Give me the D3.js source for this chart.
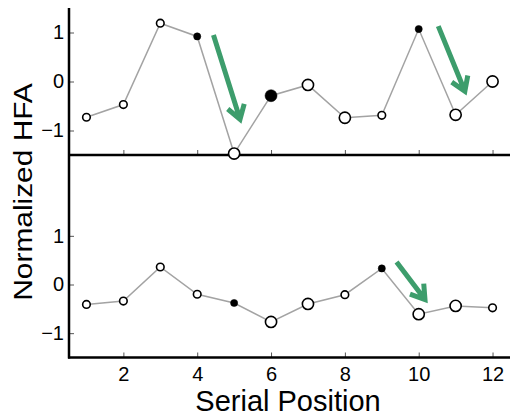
<!DOCTYPE html>
<html><head><meta charset="utf-8">
<script src="https://cdn.jsdelivr.net/npm/d3@7"></script>
<style>body{margin:0;background:#fff}svg{display:block}</style>
</head><body>
<svg id="c" width="510" height="417"></svg>
<script>
const positions = [1,2,3,4,5,6,7,8,9,10,11,12];
const topValues = [-0.73,-0.47,1.19,0.92,-1.47,-0.29,-0.07,-0.74,-0.69,1.07,-0.68,0.0];
const topMarkers = ["so","so","so","sf","lo","lf","lo","lo","so","sf","lo","lo"];
const bottomValues = [-0.41,-0.34,0.36,-0.2,-0.38,-0.77,-0.40,-0.21,0.33,-0.61,-0.44,-0.48];
const bottomMarkers = ["so","so","so","so","sf","lo","lo","so","sf","lo","lo","so"];
const xTicks = [2,4,6,8,10,12];
const yTicks = [-1,0,1];
const topArrows = [{x1:4.44,y1:0.95,x2:5.16,y2:-0.77},{x1:10.53,y1:1.13,x2:11.25,y2:-0.2}];
const bottomArrows = [{x1:9.40,y1:0.46,x2:10.17,y2:-0.31}];

const svg = d3.select("#c");
const font = "'Liberation Sans', Arial, Helvetica, sans-serif";
const x = d3.scaleLinear().domain([0.5,12.5]).range([68,511]);
const yTop = d3.scaleLinear().domain([-1.5,1.5]).range([155,8]);
const yBot = d3.scaleLinear().domain([-1.5,1.5]).range([357.5,211.5]);
const green = "#3d9d6c";

function panel(y, vals, marks, arrows, showXLabels) {
  const g = svg.append("g");
  const ya = d3.axisLeft(y).tickValues(yTicks).tickSize(-4).tickPadding(6).tickFormat(d3.format("d"));
  const gy = g.append("g").attr("transform", `translate(70,0)`).call(ya);
  gy.select(".domain").remove();
  gy.selectAll(".tick line").attr("stroke","#555").attr("stroke-width",1);
  gy.selectAll("text").attr("font-family",font).attr("font-size",20).attr("fill","#000");
  const xa = d3.axisBottom(x).tickValues(xTicks).tickSize(-5).tickPadding(9).tickFormat(showXLabels ? d3.format("d") : () => "");
  const gx = g.append("g").attr("transform", `translate(0,${y.range()[0]})`).call(xa);
  gx.select(".domain").remove();
  gx.selectAll(".tick line").attr("stroke","#555").attr("stroke-width",1);
  gx.selectAll("text").attr("font-family",font).attr("font-size",20).attr("fill","#000");
  g.append("line").attr("x1",x.range()[0]).attr("x2",510).attr("y1",y.range()[0]).attr("y2",y.range()[0])
    .attr("stroke","#000").attr("stroke-width",2.5);
  const line = d3.line().x((d,i)=>x(positions[i])).y(d=>y(d));
  g.append("path").attr("d",line(vals)).attr("fill","none").attr("stroke","#a3a3a3").attr("stroke-width",1.5);
  g.selectAll("circle.m").data(vals).enter().append("circle")
    .attr("cx",(d,i)=>x(positions[i])).attr("cy",d=>y(d))
    .attr("r",(d,i)=> marks[i]==="so"?3.8 : marks[i]==="sf"?3.6 : marks[i]==="lo"?5.6 : 6)
    .attr("fill",(d,i)=> marks[i].endsWith("f")?"#000":"#fff")
    .attr("stroke","#000").attr("stroke-width",(d,i)=> marks[i].endsWith("f")?0.5:1.6);
  arrows.forEach(a => {
    const x1=x(a.x1), y1=y(a.y1), x2=x(a.x2), y2=y(a.y2);
    const ang = Math.atan2(y2-y1, x2-x1);
    const L = 16, s = Math.PI/5.5;
    const hx1 = x2 - L*Math.cos(ang - s), hy1 = y2 - L*Math.sin(ang - s);
    const hx2 = x2 - L*Math.cos(ang + s), hy2 = y2 - L*Math.sin(ang + s);
    g.append("path").attr("d",`M${x1},${y1}L${x2},${y2}M${hx1},${hy1}L${x2},${y2}L${hx2},${hy2}`)
      .attr("fill","none").attr("stroke",green).attr("stroke-width",5).attr("stroke-linejoin","miter").attr("stroke-linecap","butt");
  });
}
panel(yTop, topValues, topMarkers, topArrows, false);
panel(yBot, bottomValues, bottomMarkers, bottomArrows, true);
svg.append("line").attr("x1",69).attr("x2",69).attr("y1",8).attr("y2",358.5).attr("stroke","#000").attr("stroke-width",2.5);
svg.append("text").attr("x",288).attr("y",411).attr("text-anchor","middle")
  .attr("font-family",font).attr("font-size",29).attr("fill","#000").text("Serial Position");
svg.append("text").attr("transform","translate(32,192) rotate(-90) scale(1.15,1)").attr("text-anchor","middle")
  .attr("font-family",font).attr("font-size",26).attr("fill","#000").text("Normalized HFA");
</script>
</body></html>
